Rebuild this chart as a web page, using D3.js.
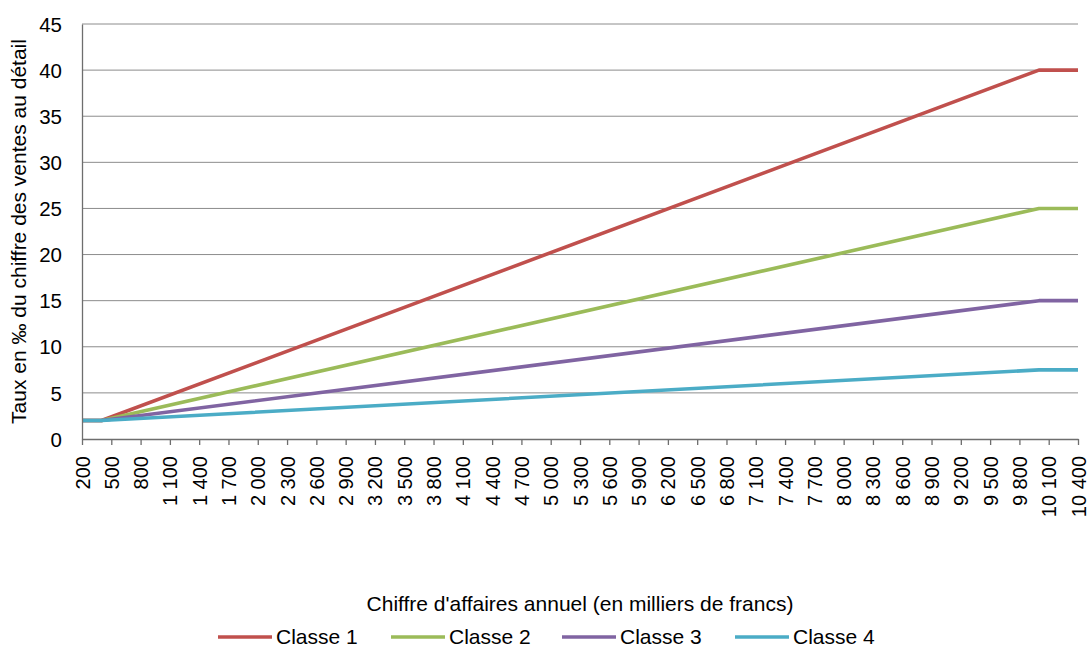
<!DOCTYPE html>
<html>
<head>
<meta charset="utf-8">
<script src="https://cdn.jsdelivr.net/npm/d3@7"></script>
<style>
    body { margin: 0; background: #fff; }
    text { font-family: "Liberation Sans", Arial, sans-serif; fill: #000; }
</style>
</head>
<body>
<svg id="vis"></svg>
<script>

// chiffre d'affaires (milliers de francs) : points de rupture des lignes
var breakpoints = [200, 400, 10000, 10400];
var classe1 = [2, 2, 40, 40];
var classe2 = [2, 2, 25, 25];
var classe3 = [2, 2, 15, 15];
var classe4 = [2, 2, 7.5, 7.5];

var seriesNames = ["Classe 1", "Classe 2", "Classe 3", "Classe 4"];
var seriesValues = [classe1, classe2, classe3, classe4];
var colors = ["#C0504D", "#9BBB59", "#8064A2", "#4BACC6"];

// etiquettes de l'axe horizontal
var xTickValues = [200, 500, 800, 1100, 1400, 1700, 2000, 2300, 2600, 2900,
    3200, 3500, 3800, 4100, 4400, 4700, 5000, 5300, 5600, 5900,
    6200, 6500, 6800, 7100, 7400, 7700, 8000, 8300, 8600, 8900,
    9200, 9500, 9800, 10100, 10400];
var yTickValues = [0, 5, 10, 15, 20, 25, 30, 35, 40, 45];

var w = 1089;
var h = 648;
var margin = {left: 82, right: 11, top: 24, bottom: 209};

var frFormat = d3.formatLocale({decimal: ",", thousands: "\u00a0", grouping: [3], currency: ["", " F"]}).format(",d");

var svg = d3.select("#vis")
    .attr("width", w)
    .attr("height", h);

var xScale = d3.scaleLinear()
    .domain([200, 10400])
    .range([margin.left, w - margin.right]);

var yScale = d3.scaleLinear()
    .domain([0, 45])
    .range([h - margin.bottom, margin.top]);

function drawGrid(){
    svg.append("g")
        .selectAll("line")
        .data(yTickValues.slice(1))
        .enter()
        .append("line")
        .attr("x1", xScale.range()[0])
        .attr("x2", xScale.range()[1])
        .attr("y1", function(d){ return yScale(d); })
        .attr("y2", function(d){ return yScale(d); })
        .attr("stroke", "#8c8c8c")
        .attr("stroke-width", 1);
}

function drawAxes(){
    // axe vertical
    let yAxis = svg.append("g")
        .attr("transform", "translate(" + margin.left + ",0)")
        .call(d3.axisLeft(yScale).tickValues(yTickValues).tickSize(0).tickPadding(20));
    yAxis.select(".domain").attr("stroke", "#6e6e6e").attr("stroke-width", 1.3);
    yAxis.selectAll("text")
        .style("font-size", "20.5px")
        .attr("dy", "0.35em");

    // axe horizontal
    let xAxis = svg.append("g")
        .attr("transform", "translate(0," + yScale(0) + ")")
        .call(d3.axisBottom(xScale).tickValues(xTickValues).tickSizeInner(6).tickSizeOuter(0).tickFormat(frFormat));
    xAxis.select(".domain").attr("stroke", "#6e6e6e").attr("stroke-width", 1.3);
    xAxis.selectAll(".tick line").attr("stroke", "#6e6e6e").attr("stroke-width", 1.3);
    xAxis.selectAll("text")
        .style("font-size", "20px")
        .attr("text-anchor", "end")
        .attr("transform", "translate(0,17) rotate(-90)")
        .attr("x", 0)
        .attr("y", 0)
        .attr("dy", "0.35em");

    // titres
    svg.append("text")
        .attr("x", (xScale.range()[0] + xScale.range()[1]) / 2)
        .attr("y", 611)
        .attr("text-anchor", "middle")
        .style("font-size", "21px")
        .text("Chiffre d'affaires annuel (en milliers de francs)");

    svg.append("text")
        .attr("transform", "translate(26," + yScale(22.5) + ") rotate(-90)")
        .attr("text-anchor", "middle")
        .style("font-size", "21px")
        .text("Taux en \u2030 du chiffre des ventes au détail");
}

function drawLines(){
    let line = d3.line()
        .x(function(d){ return xScale(d[0]); })
        .y(function(d){ return yScale(d[1]); });

    svg.append("g")
        .selectAll("path")
        .data(seriesValues)
        .enter()
        .append("path")
        .attr("d", function(d){
            return line(breakpoints.map(function(x, i){ return [x, d[i]]; }));
        })
        .attr("fill", "none")
        .attr("stroke", function(d, i){ return colors[i]; })
        .attr("stroke-width", 3.6)
        .attr("stroke-linejoin", "round");
}

function createLegend(){
    let legendX = [218, 391, 562, 735];
    let key = svg.append("g")
        .attr("transform", "translate(0,637)");

    key.selectAll("line")
        .data(seriesNames)
        .enter()
        .append("line")
        .attr("x1", function(d, i){ return legendX[i]; })
        .attr("x2", function(d, i){ return legendX[i] + 54; })
        .attr("stroke", function(d, i){ return colors[i]; })
        .attr("stroke-width", 3.6);

    key.selectAll("text")
        .data(seriesNames)
        .enter()
        .append("text")
        .attr("x", function(d, i){ return legendX[i] + 58; })
        .attr("dy", "0.35em")
        .style("font-size", "21px")
        .text(function(d){ return d; });
}

drawGrid();
drawLines();
drawAxes();
createLegend();

</script>
</body>
</html>
